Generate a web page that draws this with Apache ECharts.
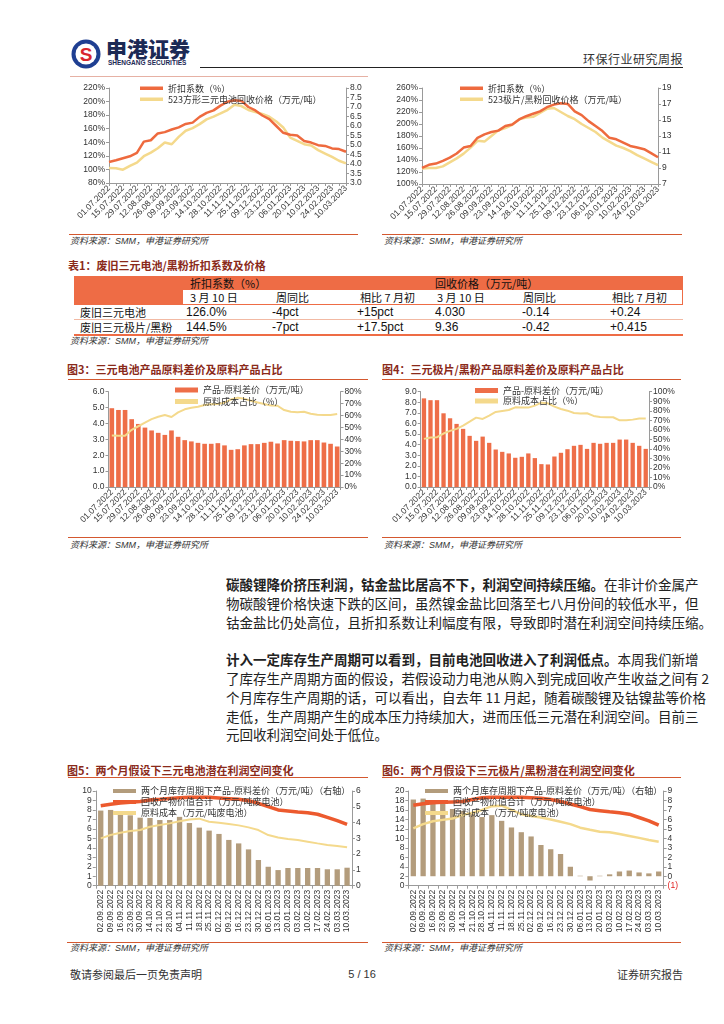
<!DOCTYPE html>
<html><head><meta charset="utf-8">
<script src="https://cdn.jsdelivr.net/npm/echarts@6/dist/echarts.min.js"></script>
<style>
body{margin:0;background:#fff;}
#page{position:relative;width:724px;height:1024px;overflow:hidden;background:#fff;font-family:"Liberation Sans","Noto Sans CJK SC",sans-serif;color:#222;}
.abs{position:absolute;white-space:nowrap;}
.cn{font-family:"Noto Sans CJK SC",sans-serif;}
.ln{position:absolute;height:0;}
.src{position:absolute;white-space:nowrap;font-size:9px;font-style:italic;color:#333;line-height:12px;font-family:"Liberation Sans","Noto Sans CJK SC",sans-serif;}
.ttl{position:absolute;white-space:nowrap;font-size:11px;font-weight:bold;color:#8a2a1a;line-height:14px;font-family:"Noto Sans CJK SC",sans-serif;}
.para{position:absolute;left:226px;width:458px;font-size:13.5px;line-height:19px;text-align:justify;text-align-last:justify;white-space:nowrap;font-family:"Noto Sans CJK SC",sans-serif;color:#222;}
.para.last{text-align-last:left;}
.chart{position:absolute;}
.tc{position:absolute;white-space:nowrap;font-size:11px;line-height:14px;color:#111;}
.tn{position:absolute;white-space:nowrap;font-size:12px;line-height:14px;color:#111;font-family:"Liberation Sans",sans-serif;}
</style></head>
<body>
<div id="page">
  <!-- header -->
  <svg class="abs" style="left:71px;top:39px" width="30" height="30" viewBox="0 0 30 30">
    <circle cx="15" cy="15" r="14.5" fill="#1f3f92"/>
    <circle cx="15" cy="15" r="10.5" fill="#fff"/>
    <text x="15" y="21.5" text-anchor="middle" font-size="19" font-weight="bold" fill="#d8262e" font-family="Liberation Sans">S</text>
  </svg>
  <div class="abs cn" style="left:106px;top:36px;font-size:21px;line-height:25px;font-weight:900;color:#1c2a55;">申港证券</div>
  <div class="abs" style="left:108px;top:59px;font-size:6.5px;line-height:8px;font-weight:bold;color:#1c2a55;">SHENGANG SECURITIES</div>
  <div class="abs cn" style="left:583px;width:100px;top:51px;font-size:12px;line-height:16px;color:#333;text-align:right;letter-spacing:0.5px">环保行业研究周报</div>
  <div class="ln" style="left:200px;top:67px;width:483px;border-top:1px solid #222"></div>
  <div class="ln" style="left:70px;top:76px;width:298px;border-top:1px solid #e6b1a4"></div>

  <!-- top charts -->
  <div id="c1" class="chart" style="left:60px;top:78px;width:310px;height:155px"></div>
  <div id="c2" class="chart" style="left:375px;top:78px;width:315px;height:155px"></div>
  <div class="ln" style="left:69px;top:234px;width:289px;border-top:1px solid #d4582f"></div>
  <div class="ln" style="left:382px;top:234px;width:300px;border-top:1px solid #d4582f"></div>
  <div class="src" style="left:70px;top:235px">资料来源：SMM，申港证券研究所</div>
  <div class="src" style="left:384px;top:235px">资料来源：SMM，申港证券研究所</div>

  <!-- table -->
  <div class="ttl" style="left:68px;top:258px">表1：废旧三元电池/黑粉折扣系数及价格</div>
  <div class="abs" style="left:74px;top:276px;width:609px;height:14px;background:#ee6c45"></div>
  <div class="abs" style="left:74px;top:290px;width:109px;height:14px;background:#ee6c45"></div>
  <div class="ln" style="left:682px;top:290px;width:0;height:14px;border-left:1px solid #ee6c45"></div>
  <div class="ln" style="left:74px;top:304px;width:609px;border-top:1px solid #ee6c45"></div>
  <div class="ln" style="left:74px;top:319px;width:609px;border-top:1px solid #f2b9a3"></div>
  <div class="ln" style="left:74px;top:334px;width:609px;border-top:2px solid #ee6c45"></div>
  <div id="tbl"></div>
  <div class="src" style="left:70px;top:335px">资料来源：SMM，申港证券研究所</div>

  <!-- middle charts -->
  <div class="ttl" style="left:67px;top:362px">图3：三元电池产品原料差价及原料产品占比</div>
  <div class="ttl" style="left:382px;top:362px">图4：三元极片/黑粉产品原料差价及原料产品占比</div>
  <div class="ln" style="left:68px;top:379px;width:300px;border-top:1px solid #d4582f"></div>
  <div class="ln" style="left:382px;top:379px;width:299px;border-top:1px solid #d4582f"></div>
  <div id="c3" class="chart" style="left:60px;top:380px;width:315px;height:155px"></div>
  <div id="c4" class="chart" style="left:375px;top:380px;width:315px;height:155px"></div>
  <div class="ln" style="left:68px;top:537px;width:300px;border-top:1px solid #d4582f"></div>
  <div class="ln" style="left:382px;top:537px;width:299px;border-top:1px solid #d4582f"></div>
  <div class="src" style="left:70px;top:539px">资料来源：SMM，申港证券研究所</div>
  <div class="src" style="left:384px;top:539px">资料来源：SMM，申港证券研究所</div>

  <!-- paragraphs -->
  <div class="para" style="top:575px"><b>碳酸锂降价挤压利润，钴金盐比居高不下，利润空间持续压缩。</b>在非计价金属产</div>
  <div class="para" style="top:594px">物碳酸锂价格快速下跌的区间，虽然镍金盐比回落至七八月份间的较低水平，但</div>
  <div class="para" style="top:613px">钴金盐比仍处高位，且折扣系数让利幅度有限，导致即时潜在利润空间持续压缩。</div>
  <div class="para" style="top:650px"><b>计入一定库存生产周期可以看到，目前电池回收进入了利润低点。</b>本周我们新增</div>
  <div class="para" style="top:669px">了库存生产周期方面的假设，若假设动力电池从购入到完成回收产生收益之间有 2</div>
  <div class="para" style="top:688px">个月库存生产周期的话，可以看出，自去年 11 月起，随着碳酸锂及钴镍盐等价格</div>
  <div class="para" style="top:707px">走低，生产周期产生的成本压力持续加大，进而压低三元潜在利润空间。目前三</div>
  <div class="para last" style="top:725px">元回收利润空间处于低位。</div>

  <!-- bottom charts -->
  <div class="ttl" style="left:67px;top:763px">图5：两个月假设下三元电池潜在利润空间变化</div>
  <div class="ttl" style="left:382px;top:763px">图6：两个月假设下三元极片/黑粉潜在利润空间变化</div>
  <div class="ln" style="left:68px;top:777px;width:300px;border-top:1px solid #d4582f"></div>
  <div class="ln" style="left:382px;top:777px;width:299px;border-top:1px solid #d4582f"></div>
  <div id="c5" class="chart" style="left:60px;top:780px;width:315px;height:160px"></div>
  <div id="c6" class="chart" style="left:375px;top:780px;width:315px;height:160px"></div>
  <div class="ln" style="left:67px;top:942px;width:301px;border-top:1px solid #d4582f"></div>
  <div class="ln" style="left:382px;top:942px;width:299px;border-top:1px solid #d4582f"></div>
  <div class="src" style="left:70px;top:942px">资料来源：SMM，申港证券研究所</div>
  <div class="src" style="left:384px;top:942px">资料来源：SMM，申港证券研究所</div>

  <!-- footer -->
  <div class="abs cn" style="left:70px;top:967px;font-size:11px;line-height:14px;color:#333">敬请参阅最后一页免责声明</div>
  <div class="abs" style="left:332px;width:60px;top:967px;font-size:11px;line-height:14px;color:#333;text-align:center">5 / 16</div>
  <div class="abs cn" style="left:583px;width:100px;top:967px;font-size:11px;line-height:14px;color:#333;text-align:right">证券研究报告</div>
</div>

<script>
// ---------- data ----------
const dates35 = ['01.07.2022','08.07.2022','15.07.2022','22.07.2022','29.07.2022','05.08.2022','12.08.2022','19.08.2022','26.08.2022','02.09.2022','09.09.2022','16.09.2022','23.09.2022','30.09.2022','14.10.2022','21.10.2022','28.10.2022','04.11.2022','11.11.2022','18.11.2022','25.11.2022','02.12.2022','09.12.2022','16.12.2022','23.12.2022','30.12.2022','06.01.2023','13.01.2023','20.01.2023','03.02.2023','10.02.2023','17.02.2023','24.02.2023','03.03.2023','10.03.2023'];
const discount1 = [111,113.5,116.5,119.4,124.3,141,143,153,155,158.8,162,167,169,177.5,183.4,187,194,199.7,202,201,192,187,179.5,174,164,154,151,150,142,139.6,135.7,134.7,131,130,126];
const price1 = [3.79,3.78,3.70,3.90,4.07,4.41,4.6,4.83,5.13,5.04,5.43,5.75,5.89,6.1,6.35,6.49,6.66,6.84,7.12,7.05,6.84,6.73,6.63,6.49,6.24,5.92,5.39,5.22,5.04,4.97,4.73,4.55,4.37,4.17,4.03];
const discount2 = [127,132,134,138.6,144,150.8,160.7,163.4,177,182.8,186.6,189,196.6,199.3,207.6,213,217,221,228,232.4,234.6,233.5,221,214.8,204.8,196.6,188.3,177,174.5,169,163.4,160.7,158,151.5,144.5];
const price2 = [8.95,9.0,9.0,9.2,9.7,10.2,10.8,11.55,12.4,12.3,13.0,13.7,14.0,14.4,15.1,15.3,15.4,15.9,16.4,16.5,16.0,15.5,15.1,14.5,14.0,13.5,12.8,12.3,11.8,11.5,11.1,10.6,10.2,9.78,9.36];
const spread3 = [4.96,4.85,4.85,4.27,3.97,3.74,3.56,3.41,3.28,3.56,3.16,2.95,2.87,2.78,2.72,2.72,2.76,2.62,2.34,2.38,2.62,2.7,2.7,2.78,2.85,2.74,2.95,2.91,2.89,2.87,2.95,2.95,2.8,2.72,2.55];
const ratio3 = [43.2,43,43,48,51,54,57,59,60.4,58.8,62.7,65.2,66.6,67.4,68.8,69.4,69.6,70.8,73.5,75,74,72.4,71,69.6,68.5,68.2,64.6,63.2,62.7,63.2,61.5,60.7,60.4,60.4,61.3];
const spread4 = [8.37,8.2,8.2,6.96,6.49,5.96,5.49,4.83,4.36,4.76,4.17,3.54,3.32,3.17,2.76,2.85,3.17,2.73,2.16,2.13,2.88,3.23,3.57,3.89,3.98,3.6,4.17,4.08,4.17,4.17,4.48,4.48,4.17,3.89,3.6];
const ratio4 = [50.5,51.9,52.3,56.1,58.9,61,64.5,68.6,72.8,71.4,74.9,78.7,79.8,80.8,83.6,83.3,83.3,85.4,88.5,87.8,84.3,81.9,80.1,77.7,77,77.4,74.6,73.5,73.2,73.2,70,70,70.7,71.8,71.8];
const dates26 = ['02.09.2022','09.09.2022','16.09.2022','23.09.2022','30.09.2022','14.10.2022','21.10.2022','28.10.2022','04.11.2022','11.11.2022','18.11.2022','25.11.2022','02.12.2022','09.12.2022','16.12.2022','23.12.2022','30.12.2022','06.01.2023','13.01.2023','20.01.2023','03.02.2023','10.02.2023','17.02.2023','24.02.2023','03.03.2023','10.03.2023'];
const spread5 = [4.76,4.8,4.59,4.46,4.31,4.29,4.16,4.16,4.36,3.97,3.68,3.49,3.28,2.9,2.68,2.3,1.63,1.2,0.99,1.12,1.12,1.12,1.12,1.04,1.04,1.14];
const value5 = [8.45,8.6,8.73,8.8,8.9,9.05,9.12,9.22,9.3,9.33,9.33,9.33,9.26,9.19,9.12,8.98,8.7,8.35,8.0,7.89,7.78,7.71,7.54,7.22,6.87,6.48];
const cost5 = [5.0,5.35,5.6,5.77,5.88,6.23,6.4,6.58,6.8,7.0,7.08,6.76,6.65,6.51,6.37,6.16,5.88,5.35,5.1,4.93,4.82,4.65,4.47,4.3,4.19,4.05];
const spread6 = [8.1,8.2,7.8,7.75,7.1,6.9,6.75,6.25,6.45,5.85,5.15,4.65,4.2,3.3,2.85,2.35,1.0,0.05,-0.45,0.05,0.2,0.5,0.6,0.4,0.3,0.5];
const value6 = [17.0,17.3,17.5,17.6,17.7,17.8,18.2,18.6,18.7,18.7,18.7,18.7,18.6,18.45,18.2,17.8,17.25,16.7,16.1,15.85,15.6,15.4,15.1,14.4,13.7,12.8];
const cost6 = [12.1,13.0,13.6,13.9,14.2,14.9,15.4,16.0,16.8,16.9,16.0,15.1,14.7,14.4,14.0,13.5,13.0,12.25,11.8,11.4,11.3,10.9,10.5,10.1,9.65,9.3];

// table
const tableRows = ['废旧三元电池','废旧三元极片/黑粉'];
const tableHead1 = ['折扣系数（%）','回收价格（万元/吨）'];
const tableHead2 = ['3 月 10 日','周同比','相比 7 月初','3 月 10 日','周同比','相比 7 月初'];
const tableVals = [['126.0%','-4pct','+15pct','4.030','-0.14','+0.24'],['144.5%','-7pct','+17.5pct','9.36','-0.42','+0.415']];

// ---------- table render ----------
(function(){
  const t = document.getElementById('tbl');
  const colX = [186,272,357,435,522,610];
  const headX = [190,276,360,437,523,612];
  let h = '';
  h += `<div class="tc cn" style="left:190px;top:276px">${tableHead1[0]}</div>`;
  h += `<div class="tc cn" style="left:435px;top:276px">${tableHead1[1]}</div>`;
  tableHead2.forEach((s,i)=>{ h += `<div class="tc cn" style="left:${headX[i]}px;top:290px">${s}</div>`; });
  const rowTop = [305,320];
  tableRows.forEach((r,ri)=>{
    h += `<div class="tc cn" style="left:80px;top:${rowTop[ri]}px">${r}</div>`;
    tableVals[ri].forEach((v,ci)=>{ h += `<div class="tn" style="left:${colX[ci]}px;top:${rowTop[ri]}px">${v}</div>`; });
  });
  t.innerHTML = h;
})();

// ---------- chart helpers ----------
const ORANGE = '#ee6a3e', YELLOW = '#f4d98c', BAR = '#ee6e48', TAN = '#b39c7c';
const FONT = 'Liberation Sans';
const axLine = {show:true, lineStyle:{color:'#9a9a9a', width:1}};
const axTick = {show:true, length:3, lineStyle:{color:'#9a9a9a'}};
function lbl(fs, extra){ return Object.assign({color:'#333', fontSize:fs, fontFamily:FONT, margin:4}, extra||{}); }
function legend(left, top, names, lh){
  return {orient:'vertical', left:left, top:top, itemWidth:23, itemHeight:3.5, itemGap:0.5, padding:0,
    textStyle:{fontSize:9, fontFamily:'Noto Sans CJK SC', color:'#333', lineHeight:lh||10.5, padding:[0,0,0,0], overflow:'none'},
    data:names.map(n=>({name:n, icon:'rect'}))};
}
function lineSeries(name, data, color, width, yIdx, z){
  return {type:'line', name:name, data:data, yAxisIndex:yIdx, showSymbol:false, symbol:'none', smooth:false,
    lineStyle:{color:color, width:width}, itemStyle:{color:color}, z:z||2};
}
function mk(id, opt){ const c = echarts.init(document.getElementById(id), null, {renderer:'canvas'}); opt.animation=false; c.setOption(opt); }

// chart 1
mk('c1', {
  grid:{left:49, top:10, width:237, height:95},
  legend: legend(80, 5, ['折扣系数（%）','523方形三元电池回收价格（万元/吨）']),
  xAxis:{type:'category', data:dates35, boundaryGap:false, axisLine:axLine, axisTick:Object.assign({interval:0},axTick), axisLabel:lbl(8.5,{rotate:45, interval:1})},
  yAxis:[
    {type:'value', min:80, max:220, interval:20, axisLine:axLine, axisTick:axTick, splitLine:{show:false}, axisLabel:lbl(8.5,{formatter:'{value}%'})},
    {type:'value', position:'right', min:3, max:8, interval:0.5, axisLine:axLine, axisTick:axTick, splitLine:{show:false}, axisLabel:lbl(8.5,{formatter:v=>v.toFixed(1)})}
  ],
  series:[
    lineSeries('523方形三元电池回收价格（万元/吨）', price1, YELLOW, 2.5, 1, 2),
    lineSeries('折扣系数（%）', discount1, ORANGE, 2.5, 0, 3)
  ]
});

// chart 2
mk('c2', {
  grid:{left:47, top:10, width:236, height:96},
  legend: legend(85, 5, ['折扣系数（%）','523极片/黑粉回收价格（万元/吨）']),
  xAxis:{type:'category', data:dates35, boundaryGap:false, axisLine:axLine, axisTick:Object.assign({interval:0},axTick), axisLabel:lbl(8.5,{rotate:45, interval:1})},
  yAxis:[
    {type:'value', min:100, max:260, interval:20, axisLine:axLine, axisTick:axTick, splitLine:{show:false}, axisLabel:lbl(8.5,{formatter:'{value}%'})},
    {type:'value', position:'right', min:7, max:19, interval:2, axisLine:axLine,
      axisTick:Object.assign({customValues:[7,9,11,13,15,17,19]},axTick), splitLine:{show:false},
      axisLabel:lbl(8.5,{customValues:[7,9,11,13,15,17,19]})}
  ],
  series:[
    lineSeries('523极片/黑粉回收价格（万元/吨）', price2, YELLOW, 2.5, 1, 2),
    lineSeries('折扣系数（%）', discount2, ORANGE, 2.5, 0, 3)
  ]
});

// chart 3
mk('c3', {
  grid:{left:48.5, top:11.7, width:232, height:95.3},
  legend: Object.assign(legend(115, 4.5, ['产品-原料差价（万元/吨）','原料成本占比（%）'], 11), {itemHeight:5}),
  xAxis:{type:'category', data:dates35, axisLine:axLine, axisTick:Object.assign({interval:0},axTick), axisLabel:lbl(8.5,{rotate:45, interval:1})},
  yAxis:[
    {type:'value', min:0, max:6, interval:1, axisLine:axLine, axisTick:axTick, splitLine:{show:false}, axisLabel:lbl(8.5,{formatter:v=>v.toFixed(1)})},
    {type:'value', position:'right', min:0, max:80, interval:10, axisLine:axLine, axisTick:axTick, splitLine:{show:false}, axisLabel:lbl(8.5,{formatter:'{value}%'})}
  ],
  series:[
    {type:'bar', name:'产品-原料差价（万元/吨）', data:spread3, yAxisIndex:0, barCategoryGap:'30%', itemStyle:{color:BAR}},
    lineSeries('原料成本占比（%）', ratio3, YELLOW, 2, 1, 3)
  ]
});

// chart 4
mk('c4', {
  grid:{left:45.7, top:11.7, width:228.3, height:95.3},
  legend: Object.assign(legend(100, 5.5, ['产品-原料差价（万元/吨）','原料成本占比（%）'], 10), {itemHeight:5}),
  xAxis:{type:'category', data:dates35, axisLine:axLine, axisTick:Object.assign({interval:0},axTick), axisLabel:lbl(8.5,{rotate:45, interval:1})},
  yAxis:[
    {type:'value', min:0, max:9, interval:1, axisLine:axLine, axisTick:axTick, splitLine:{show:false}, axisLabel:lbl(8.5,{formatter:v=>v.toFixed(1)})},
    {type:'value', position:'right', min:0, max:100, interval:10, axisLine:axLine, axisTick:axTick, splitLine:{show:false}, axisLabel:lbl(8.5,{formatter:'{value}%'})}
  ],
  series:[
    {type:'bar', name:'产品-原料差价（万元/吨）', data:spread4, yAxisIndex:0, barCategoryGap:'34%', itemStyle:{color:BAR}},
    lineSeries('原料成本占比（%）', ratio4, YELLOW, 2, 1, 3)
  ]
});

// chart 5
const names56 = ['两个月库存周期下产品-原料差价（万元/吨）（右轴）','回收产物价值合计（万元/吨废电池）','原料成本（万元/吨废电池）'];
mk('c5', {
  grid:{left:35.8, top:11, width:256.2, height:94.7},
  legend: Object.assign(legend(53, 5.5, names56, 11), {itemGap:0, itemHeight:4}),
  xAxis:{type:'category', data:dates26, axisLine:axLine, axisTick:Object.assign({interval:0},axTick), axisLabel:lbl(8.5,{rotate:90, interval:0})},
  yAxis:[
    {type:'value', min:0, max:10, interval:1, axisLine:axLine, axisTick:axTick, splitLine:{show:false}, axisLabel:lbl(8.5)},
    {type:'value', position:'right', min:0, max:6, interval:1, axisLine:axLine, axisTick:axTick, splitLine:{show:false}, axisLabel:lbl(8.5)}
  ],
  series:[
    {type:'bar', name:names56[0], data:spread5, yAxisIndex:1, barCategoryGap:'46%', itemStyle:{color:TAN}},
    lineSeries(names56[1], value5, '#ec5a2e', 3.5, 0, 3),
    lineSeries(names56[2], cost5, YELLOW, 2, 0, 3)
  ]
});

// chart 6
mk('c6', {
  grid:{left:33.4, top:11, width:255.2, height:94.7},
  legend: Object.assign(legend(50, 5.5, names56, 11), {itemGap:0, itemHeight:4}),
  xAxis:{type:'category', data:dates26, axisLine:Object.assign({onZero:false},axLine), axisTick:Object.assign({interval:0},axTick), axisLabel:lbl(8.5,{rotate:90, interval:0})},
  yAxis:[
    {type:'value', min:0, max:20, interval:2, axisLine:axLine, axisTick:axTick, splitLine:{show:false}, axisLabel:lbl(8.5)},
    {type:'value', position:'right', min:-1, max:9, interval:1, axisLine:axLine, axisTick:axTick, splitLine:{show:false},
      axisLabel:lbl(8.5,{formatter:v=> v<0 ? '{neg|('+Math.abs(v)+')}' : String(v), rich:{neg:{color:'#e02020', fontSize:8.5, fontFamily:FONT}}})}
  ],
  series:[
    {type:'bar', name:names56[0], data:spread6, yAxisIndex:1, barCategoryGap:'46%', itemStyle:{color:TAN}},
    lineSeries(names56[1], value6, '#ec5a2e', 3.5, 0, 3),
    lineSeries(names56[2], cost6, YELLOW, 2.5, 0, 3)
  ]
});
</script>
</body></html>
